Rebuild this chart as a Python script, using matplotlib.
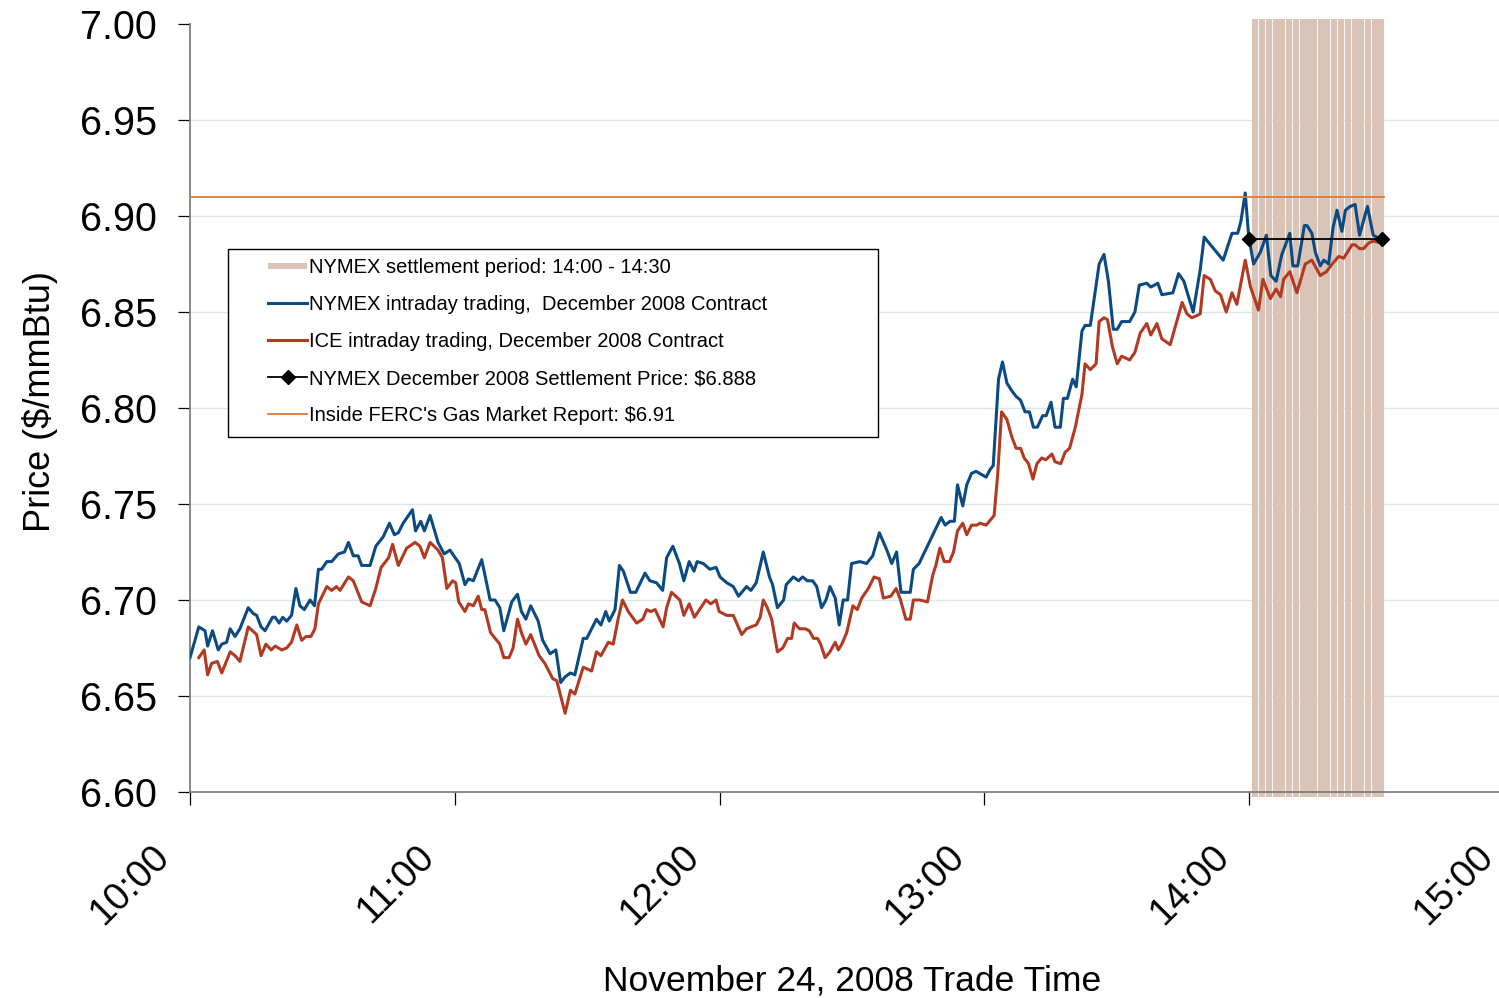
import matplotlib
matplotlib.use('Agg')
import matplotlib.pyplot as plt
from matplotlib.patches import Rectangle
from matplotlib.transforms import ScaledTranslation

plt.rcParams['font.family'] = ['Liberation Sans', 'DejaVu Sans']

# ---------------- data ----------------
tick_minutes = [0, 60, 120, 180, 240, 300]          # minutes after 10:00
tick_labels = ['10:00', '11:00', '12:00', '13:00', '14:00', '15:00']
y_ticks = [6.60, 6.65, 6.70, 6.75, 6.80, 6.85, 6.90, 6.95, 7.00]

nymex_min = [0, 2.0, 3.4, 4.0, 5.1, 6.4, 7.2, 8.3, 9.1, 10.2, 11.3, 13.2, 14.3, 15.1, 16.1, 17.0,
             18.7, 19.3, 20.2, 21.0, 21.9, 23.0, 24.0, 24.9, 25.9, 27.2, 28.2, 29.1, 29.8, 31.0,
             32.1, 33.6, 35.0, 35.9, 37.0, 38.1, 38.9, 40.8, 42.1, 43.8, 45.2, 46.3, 47.2, 48.3,
             50.4, 51.1, 52.3, 53.1, 54.4, 56.2, 57.6, 58.9, 61.0, 62.3, 63.1, 64.2, 66.1, 68.0,
             69.1, 70.2, 71.1, 72.9, 74.2, 75.1, 76.1, 77.2, 78.9, 79.9, 81.6, 82.9, 84.0, 85.0,
             86.2, 87.2, 89.1, 89.9, 92.1, 93.1, 94.2, 95.0, 96.3, 97.3, 98.2, 99.8, 101.0, 103.1,
             104.2, 105.7, 107.1, 108.0, 109.4, 110.9, 111.9, 113.1, 114.2, 114.9, 116.3, 117.8,
             119.2, 120.1, 121.6, 123.1, 124.3, 126.1, 127.1, 128.3, 129.9, 131.3, 132.0, 133.1,
             134.5, 135.1, 136.7, 137.9, 138.8, 139.9, 141.1, 142.0, 143.1, 144.1, 145.0, 146.2,
             147.1, 148.0, 149.0, 149.9, 151.8, 153.3, 154.7, 156.2, 157.9, 159.0, 160.1, 161.1,
             163.2, 163.9, 165.2, 167.7, 170.2, 171.1, 172.2, 173.2, 173.9, 175.1, 176.0, 177.1,
             178.1, 180.4, 181.3, 182.0, 183.2, 184.1, 185.1, 186.2, 187.2, 188.2, 189.2, 190.2,
             191.1, 192.0, 193.2, 194.0, 195.1, 196.0, 197.2, 197.9, 198.8, 200.0, 200.8, 202.1,
             202.8, 204.0, 206.0, 207.1, 208.1, 209.2, 210.1, 211.1, 212.9, 214.1, 215.1, 216.8,
             217.7, 219.3, 220.2, 222.7, 224.0, 225.2, 227.3, 228.9, 229.8, 234.1, 236.1, 237.4,
             238.1, 239.1, 239.9, 241.0, 242.5, 243.9, 244.9, 246.1, 247.4, 249.2, 249.9, 251.0,
             252.5, 253.1, 254.2, 255.0, 256.1, 256.9, 258.0, 259.0, 259.9, 261.0, 261.8, 262.9,
             264.0, 265.0, 266.8, 268.1, 268.9, 270.1]
nymex_price = [6.670, 6.686, 6.684, 6.676, 6.684, 6.674, 6.677, 6.678, 6.685, 6.681, 6.685, 6.696,
               6.693, 6.692, 6.686, 6.684, 6.691, 6.691, 6.688, 6.691, 6.689, 6.692, 6.706, 6.697,
               6.695, 6.700, 6.697, 6.716, 6.716, 6.720, 6.720, 6.724, 6.725, 6.730, 6.723, 6.723,
               6.718, 6.718, 6.728, 6.733, 6.740, 6.734, 6.735, 6.740, 6.747, 6.736, 6.741, 6.736,
               6.744, 6.730, 6.724, 6.726, 6.719, 6.708, 6.711, 6.710, 6.721, 6.700, 6.700, 6.696,
               6.684, 6.699, 6.703, 6.694, 6.690, 6.697, 6.689, 6.679, 6.672, 6.674, 6.657, 6.660,
               6.662, 6.661, 6.680, 6.680, 6.690, 6.687, 6.694, 6.689, 6.695, 6.718, 6.715, 6.704,
               6.704, 6.714, 6.710, 6.709, 6.705, 6.722, 6.728, 6.719, 6.710, 6.720, 6.715, 6.720,
               6.719, 6.716, 6.717, 6.712, 6.709, 6.707, 6.702, 6.707, 6.705, 6.709, 6.725, 6.712,
               6.708, 6.696, 6.700, 6.708, 6.712, 6.710, 6.712, 6.710, 6.710, 6.707, 6.696, 6.700,
               6.707, 6.701, 6.687, 6.700, 6.700, 6.719, 6.720, 6.719, 6.723, 6.735, 6.726, 6.719,
               6.725, 6.704, 6.704, 6.716, 6.719, 6.731, 6.743, 6.739, 6.741, 6.741, 6.760, 6.749,
               6.760, 6.766, 6.767, 6.764, 6.768, 6.770, 6.815, 6.824, 6.813, 6.809, 6.806, 6.804,
               6.798, 6.798, 6.790, 6.790, 6.796, 6.796, 6.803, 6.790, 6.790, 6.805, 6.805, 6.815,
               6.811, 6.840, 6.843, 6.843, 6.875, 6.880, 6.866, 6.841, 6.841, 6.845, 6.845, 6.850,
               6.864, 6.865, 6.863, 6.865, 6.859, 6.860, 6.870, 6.866, 6.850, 6.872, 6.889, 6.877,
               6.891, 6.891, 6.897, 6.912, 6.889, 6.875, 6.881, 6.890, 6.869, 6.866, 6.880, 6.891,
               6.874, 6.874, 6.895, 6.895, 6.891, 6.881, 6.874, 6.877, 6.875, 6.894, 6.903, 6.892,
               6.903, 6.905, 6.906, 6.890, 6.905, 6.890, 6.889, 6.888]

ice_min = [2.0, 3.2, 4.0, 4.9, 6.2, 7.2, 9.1, 10.2, 11.3, 13.2, 15.1, 16.1, 17.2, 18.4, 19.3, 20.8,
           21.9, 23.0, 24.2, 25.3, 26.3, 27.4, 28.3, 29.1, 31.0, 32.1, 33.2, 34.0, 35.9, 37.0, 38.9,
           40.8, 42.1, 43.3, 45.0, 45.9, 47.2, 49.1, 51.0, 52.1, 53.1, 54.4, 56.2, 57.2, 58.2, 59.5,
           60.2, 60.9, 62.3, 63.1, 64.2, 65.3, 66.1, 66.8, 68.1, 70.2, 71.1, 72.3, 73.2, 74.2, 75.1,
           76.1, 77.2, 79.1, 80.4, 82.2, 83.1, 85.0, 86.2, 87.2, 89.1, 91.0, 92.1, 93.1, 94.8, 95.9,
           97.0, 98.0, 99.3, 101.2, 102.6, 103.5, 104.4, 105.4, 107.2, 108.0, 109.1, 111.0, 111.9,
           113.1, 114.3, 116.9, 118.0, 119.2, 119.9, 121.6, 123.1, 125.0, 126.1, 127.1, 128.3,
           129.2, 129.9, 130.8, 131.8, 133.1, 134.3, 135.4, 136.3, 136.9, 138.1, 139.4, 140.3,
           141.3, 142.2, 142.9, 143.9, 145.0, 146.2, 146.9, 147.7, 148.8, 150.2, 151.2, 152.2,
           153.7, 155.0, 156.2, 157.1, 158.8, 160.0, 161.0, 162.2, 163.2, 163.9, 165.4, 167.1,
           168.3, 169.0, 169.9, 170.9, 172.1, 173.0, 173.9, 175.1, 176.0, 177.1, 178.3, 179.0,
           180.4, 182.2, 183.0, 183.9, 185.1, 186.2, 187.2, 188.2, 189.0, 190.0, 191.0, 191.9,
           193.0, 193.9, 195.3, 196.0, 197.3, 198.3, 199.3, 200.6, 202.1, 202.8, 204.0, 205.3,
           206.0, 207.1, 207.9, 209.0, 210.1, 211.1, 212.9, 214.1, 215.3, 216.8, 217.7, 219.1,
           220.2, 222.1, 224.8, 225.9, 227.0, 228.0, 228.9, 229.8, 231.2, 232.3, 233.5, 234.8,
           236.1, 237.2, 239.1, 240.3, 242.1, 243.1, 244.8, 246.1, 247.1, 247.8, 249.2, 250.8,
           252.7, 254.2, 256.1, 257.5, 258.8, 260.3, 261.4, 263.3, 264.0, 265.0, 265.9, 267.1,
           268.2, 269.7, 270.4]
ice_price = [6.670, 6.674, 6.661, 6.667, 6.668, 6.662, 6.673, 6.671, 6.668, 6.686, 6.682, 6.671,
             6.677, 6.674, 6.676, 6.674, 6.675, 6.678, 6.687, 6.679, 6.681, 6.681, 6.685, 6.698,
             6.707, 6.705, 6.707, 6.705, 6.712, 6.710, 6.699, 6.697, 6.706, 6.717, 6.722, 6.729,
             6.718, 6.727, 6.730, 6.728, 6.722, 6.730, 6.726, 6.722, 6.706, 6.710, 6.709, 6.699,
             6.694, 6.698, 6.697, 6.702, 6.695, 6.695, 6.683, 6.677, 6.670, 6.670, 6.675, 6.690,
             6.683, 6.677, 6.682, 6.671, 6.667, 6.659, 6.658, 6.641, 6.653, 6.651, 6.665, 6.663,
             6.673, 6.671, 6.678, 6.677, 6.690, 6.700, 6.694, 6.688, 6.690, 6.695, 6.694, 6.695,
             6.686, 6.696, 6.704, 6.700, 6.692, 6.698, 6.691, 6.700, 6.698, 6.700, 6.694, 6.692,
             6.692, 6.682, 6.685, 6.686, 6.687, 6.691, 6.700, 6.696, 6.690, 6.673, 6.675, 6.680,
             6.680, 6.688, 6.685, 6.685, 6.684, 6.680, 6.680, 6.677, 6.670, 6.673, 6.678, 6.674,
             6.677, 6.683, 6.697, 6.695, 6.701, 6.706, 6.712, 6.711, 6.701, 6.702, 6.706, 6.700,
             6.690, 6.690, 6.700, 6.700, 6.699, 6.713, 6.718, 6.727, 6.720, 6.720, 6.725, 6.736,
             6.740, 6.734, 6.739, 6.739, 6.740, 6.739, 6.744, 6.765, 6.798, 6.794, 6.785, 6.779,
             6.779, 6.774, 6.771, 6.763, 6.771, 6.774, 6.773, 6.776, 6.772, 6.771, 6.777, 6.779,
             6.790, 6.807, 6.823, 6.820, 6.823, 6.845, 6.847, 6.846, 6.832, 6.823, 6.827, 6.825,
             6.829, 6.839, 6.844, 6.838, 6.844, 6.836, 6.833, 6.855, 6.849, 6.847, 6.848, 6.849,
             6.869, 6.867, 6.861, 6.859, 6.850, 6.860, 6.854, 6.877, 6.863, 6.851, 6.867, 6.857,
             6.862, 6.858, 6.867, 6.871, 6.860, 6.875, 6.877, 6.869, 6.871, 6.875, 6.879, 6.878,
             6.885, 6.885, 6.883, 6.883, 6.886, 6.887, 6.886, 6.888]

settle_min = [240, 270]
settle_price = [6.888, 6.888]

ferc_min = [0, 270.5]
ferc_price = [6.91, 6.91]

band_min = [241.4, 242.9, 244.5, 246.0, 247.5, 249.1, 250.7, 252.2, 253.4, 254.7, 256.2, 257.7,
            259.3, 260.8, 262.3, 264.0, 265.4, 267.0, 268.4, 269.9]

labels = ['NYMEX settlement period: 14:00 - 14:30',
          'NYMEX intraday trading,  December 2008 Contract',
          'ICE intraday trading, December 2008 Contract',
          'NYMEX December 2008 Settlement Price: $6.888',
          "Inside FERC's Gas Market Report: $6.91"]

# ---------------- figure ----------------
W, H = 1499, 998
fig = plt.figure(figsize=(W / 100, H / 100), dpi=100)
ax = fig.add_axes([190 / W, 1 - 792 / H, 1324 / W, 768 / H])

ax.set_xlim(0, 300)
ax.set_ylim(6.60, 7.00)

band = ax.vlines(band_min, 6.5974, 7.0026, colors='#D9C4B7', linewidth=4.4,
                 clip_on=False, zorder=2)
l_nymex, = ax.plot(nymex_min, nymex_price, color='#0B4A82', lw=2.2, zorder=4)
l_ice, = ax.plot(ice_min, ice_price, color='#B23A22', lw=2.2, zorder=3)
l_settle, = ax.plot(settle_min, settle_price, color='black', lw=1.3, marker='D',
                    markersize=7, zorder=6)
l_ferc, = ax.plot(ferc_min, ferc_price, color='#E07A3A', lw=1.3, zorder=5)

# axes styling
for s in ['top', 'right']:
    ax.spines[s].set_visible(False)
for s in ['left', 'bottom']:
    ax.spines[s].set_color('#808080')
    ax.spines[s].set_linewidth(1.3)

ax.set_yticks(y_ticks)
ax.set_yticklabels(['%.2f' % v for v in y_ticks])
ax.set_xticks(tick_minutes)
ax.set_xticklabels(tick_labels)

ax.tick_params(axis='y', direction='out', length=8.6, width=0.9, color='black',
               labelsize=28.5, pad=15)
ax.tick_params(axis='x', direction='out', length=9.5, width=0.9, color='black',
               labelsize=27.5, pad=33)

offset = ScaledTranslation(-26 / 100, 0, fig.dpi_scale_trans)
for lab in ax.get_xticklabels():
    lab.set_rotation(45)
    lab.set_ha('right')
    lab.set_va('center')
    lab.set_rotation_mode('anchor')
    lab.set_transform(lab.get_transform() + offset)

ax.yaxis.grid(True, color='#DCE7E8', linewidth=1.0, zorder=0)
ax.set_axisbelow(True)
gl = ax.yaxis.get_gridlines()
gl[-1].set_visible(False)
gl[0].set_visible(False)

ax.set_ylabel('Price ($/mmBtu)', fontsize=26)
ax.yaxis.set_label_coords(-0.100, 0.508)
ax.set_xlabel('November 24, 2008 Trade Time', fontsize=25.5, va='top')
ax.xaxis.set_label_coords(0.5, -0.224)

leg_size = 14.5

# legend frame (fixed size as in original) + legend
frame = Rectangle((228 / W, 1 - 437 / H), 650 / W, 188 / H, transform=fig.transFigure,
                  facecolor='white', edgecolor='black', linewidth=1.0, zorder=9,
                  clip_on=False)
ax.add_patch(frame)
leg = ax.legend([band, l_nymex, l_ice, l_settle, l_ferc], labels,
                loc='upper left', bbox_to_anchor=(268 / W, 1 - 258 / H),
                bbox_transform=fig.transFigure, frameon=False,
                prop={'size': leg_size},
                borderpad=0, borderaxespad=0, handlelength=39 / (leg_size * 100 / 72),
                handletextpad=0.12, labelspacing=0.9)
leg.set_zorder(10)

fig.savefig('out.png', dpi=100)
